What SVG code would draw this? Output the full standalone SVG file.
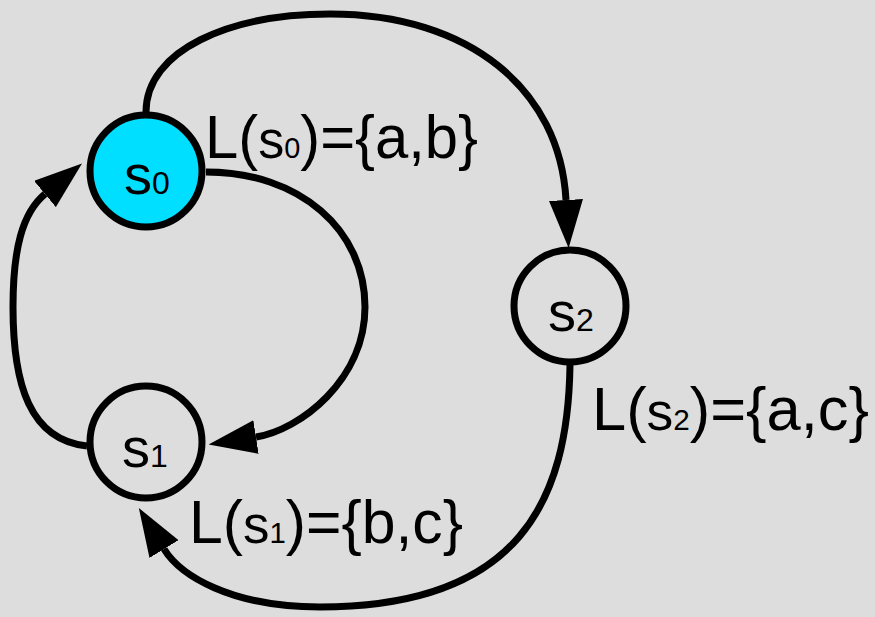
<svg xmlns="http://www.w3.org/2000/svg" width="875" height="617" viewBox="0 0 875 617">
<style>
.node{stroke:#000;stroke-width:7;fill:none}
.init{fill:#00dfff}
.edge{fill:none;stroke:#000;stroke-width:7}
.nl{font-family:"Liberation Sans",Arial,sans-serif;font-size:56px;fill:#000;text-anchor:middle}
.lab{font-family:"Liberation Sans",Arial,sans-serif;font-size:62px;fill:#000}
.sub{font-size:32px}
.ls{font-size:54px}
.lsub{font-size:30px}
</style>
<defs>
<marker id="arr" markerUnits="userSpaceOnUse" markerWidth="48" markerHeight="34" viewBox="0 0 48 34" refX="0" refY="17" orient="auto">
<path d="M0,0 L48,17 L0,34 z" fill="#000"/>
</marker>
</defs>
<rect width="875" height="617" fill="#dddddd"/>
<g id="connectors">
<path class="edge" d="M146,112 C146,50 230,14 330,14 C470,14 560,90 566,200" marker-end="url(#arr)"/>
<path class="edge" d="M206,172 C300,172 365,230 365,307 C365,380 300,430 256,437" marker-end="url(#arr)"/>
<path class="edge" d="M87,446 C30,440 13,385 13,307 C13,250 22,213 45,194" marker-end="url(#arr)"/>
<path class="edge" d="M570,365 C568,500 520,607 320,607 C230,607 180,575 164,549" marker-end="url(#arr)"/>
</g>
<g id="s0">
<circle class="node init" cx="146" cy="171" r="56"/>
<text class="nl" x="147" y="194">s<tspan class="sub">0</tspan></text>
</g>
<g id="s1">
<circle class="node" cx="146" cy="442" r="56"/>
<text class="nl" x="145" y="467">s<tspan class="sub">1</tspan></text>
</g>
<g id="s2">
<circle class="node" cx="570" cy="306" r="56"/>
<text class="nl" x="571" y="331">s<tspan class="sub">2</tspan></text>
</g>
<g id="labels">
<text class="lab" x="205" y="158" textLength="273" lengthAdjust="spacingAndGlyphs">L(<tspan class="ls">s</tspan><tspan class="lsub">0</tspan>)={a,b}</text>
<text class="lab" x="592" y="430" textLength="277" lengthAdjust="spacingAndGlyphs">L(<tspan class="ls">s</tspan><tspan class="lsub">2</tspan>)={a,c}</text>
<text class="lab" x="189" y="543" textLength="274" lengthAdjust="spacingAndGlyphs">L(<tspan class="ls">s</tspan><tspan class="lsub">1</tspan>)={b,c}</text>
</g>
</svg>
